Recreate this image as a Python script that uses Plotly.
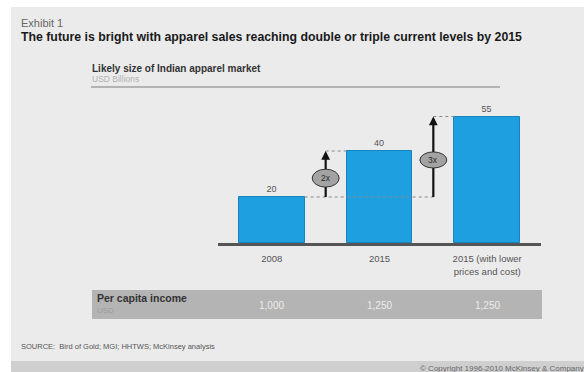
import plotly.graph_objects as go

W, H = 584, 372

categories = ["2008", "2015", "2015 (with lower<br>prices and cost)"]
values = [20, 40, 55]
income_labels = ["1,000", "1,250", "1,250"]
multipliers = ["2x", "3x"]

FONT = "Liberation Sans, Arial, sans-serif"
BG = "#ebebec"
BAR = "#1e9fe0"

def px(x):
    return x / W

def py(y):
    return 1 - y / H

fig = go.Figure()
fig.add_trace(go.Bar(
    x=[0, 1, 2], y=values, width=0.61,
    marker=dict(color=BAR, line=dict(color="#1784bd", width=1)),
    text=[str(v) for v in values], textposition="outside",
    textfont=dict(size=9, color="#555", family=FONT),
    cliponaxis=False, hoverinfo="skip",
))

shapes = []
# backgrounds
shapes.append(dict(type="rect", xref="paper", yref="paper", x0=px(11), x1=1, y0=0, y1=py(7),
                   fillcolor=BG, line=dict(width=0), layer="below"))
shapes.append(dict(type="rect", xref="paper", yref="paper", x0=px(11), x1=1, y0=0, y1=py(361),
                   fillcolor="#cfcfd0", line=dict(width=0), layer="below"))
# subtitle rule
shapes.append(dict(type="line", xref="paper", yref="paper", x0=px(91), x1=px(500), y0=py(87), y1=py(87),
                   line=dict(color="#a0a0a0", width=1.5)))
# per capita band
shapes.append(dict(type="rect", xref="paper", yref="paper", x0=px(92), x1=px(542), y0=py(319), y1=py(290),
                   fillcolor="#b4b4b5", line=dict(width=0), layer="below"))

half = 0.305
# dotted guide lines
shapes.append(dict(type="line", xref="x", yref="y", x0=half, x1=1.5, y0=values[0], y1=values[0],
                   line=dict(color="#888", width=1, dash="dot")))
shapes.append(dict(type="line", xref="x", yref="y", x0=0.5, x1=1 - half, y0=values[1], y1=values[1],
                   line=dict(color="#888", width=1, dash="dot")))
shapes.append(dict(type="line", xref="x", yref="y", x0=1.5, x1=2 - half, y0=values[2], y1=values[2],
                   line=dict(color="#888", width=1, dash="dot")))

annotations = []
# arrows with multiplier ellipses
for xa, y_top, lab, frac, hh in [(0.5, values[1], multipliers[0], 0.41, 3.9),
                                 (1.5, values[2], multipliers[1], 0.46, 3.5)]:
    shapes.append(dict(type="line", xref="x", yref="y", x0=xa, x1=xa, y0=values[0], y1=y_top - 2,
                       line=dict(color="#111", width=2.2)))
    annotations.append(dict(x=xa, y=y_top, xref="x", yref="y", ax=xa, ay=y_top - 3, axref="x", ayref="y",
                            showarrow=True, arrowhead=2, arrowsize=0.8, arrowwidth=2.2, arrowcolor="#111", text=""))
    ymid = values[0] + (y_top - values[0]) * frac
    shapes.append(dict(type="circle", xref="x", yref="y", x0=xa - 0.125, x1=xa + 0.125,
                       y0=ymid - hh, y1=ymid + hh, fillcolor="#a3a3a4",
                       line=dict(color="#333", width=1)))
    annotations.append(dict(x=xa, y=ymid, xref="x", yref="y", text=lab, showarrow=False,
                            font=dict(size=8.5, color="#2a2a2a", family=FONT)))

def txt(x, y, s, size, color="#333", bold=False, xanchor="left"):
    if bold:
        s = "<b>" + s + "</b>"
    annotations.append(dict(x=px(x), y=py(y), xref="paper", yref="paper", text=s, showarrow=False,
                            xanchor=xanchor, yanchor="middle", font=dict(size=size, color=color, family=FONT)))

txt(19, 23, "Exhibit 1", 11, "#666")
txt(19, 37, "The future is bright with apparel sales reaching double or triple current levels by 2015", 12.3, "#1a1a1a", bold=True)
txt(90, 68, "Likely size of Indian apparel market", 10, "#333", bold=True)
txt(90, 79, "USD Billions", 8.5, "#b0b0b0")
txt(95, 298, "Per capita income", 10.5, "#333", bold=True)
txt(95, 310, "USD", 8, "#9a9a9a")
for i, lab in enumerate(income_labels):
    xc = 218 + (i + 0.5) * 107.7
    txt(xc, 305, lab, 10, "#ececec", xanchor="center")
txt(19, 346, "SOURCE:  Bird of Gold; MGI; HHTWS; McKinsey analysis", 7.5, "#555")
txt(418, 368, "© Copyright 1996-2010 McKinsey & Company", 8, "#666")

fig.update_layout(
    width=W, height=H, margin=dict(l=0, r=0, t=0, b=0),
    paper_bgcolor="white", plot_bgcolor="rgba(0,0,0,0)",
    showlegend=False, shapes=shapes, annotations=annotations,
    bargap=0,
    xaxis=dict(domain=[px(218), px(541)], range=[-0.5, 2.5], tickvals=[0, 1, 2], ticktext=categories,
               showgrid=False, zeroline=False, showline=True, linewidth=3, linecolor="#555",
               ticks="", tickfont=dict(size=9.5, color="#555", family=FONT), ticklabelstandoff=5),
    yaxis=dict(domain=[py(243), py(243 - 60 * 2.3)], range=[0, 60], visible=False),
)

fig.write_html("out.html")
